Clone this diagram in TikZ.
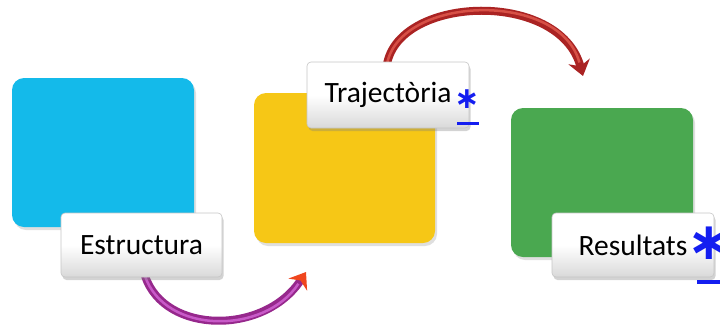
\documentclass[tikz,border=0pt]{standalone}
\usepackage{fontspec}
\setmainfont{Carlito}
\newfontfamily\astfont{DejaVu Sans}[BoldFont={DejaVu Sans Bold}]
\usetikzlibrary{arrows.meta,shadows}
\definecolor{cyanbox}{RGB}{20,186,234}
\definecolor{yellowbox}{RGB}{246,199,22}
\definecolor{greenbox}{RGB}{74,168,80}
\definecolor{astblue}{RGB}{20,30,240}
\definecolor{arrowred}{RGB}{170,35,35}
\definecolor{arrowredlight}{RGB}{215,80,70}
\definecolor{arrowpurple}{RGB}{150,40,140}
\definecolor{arrowpurplelight}{RGB}{200,90,200}
\definecolor{arroworange}{RGB}{240,70,30}
\tikzset{
  colbox/.style={rounded corners=12pt, minimum width=#1, inner sep=0pt,
     drop shadow={shadow xshift=2pt, shadow yshift=-3pt, opacity=0.25}},
  labelbox/.style={rounded corners=4pt, inner sep=0pt, draw=gray!45, line width=0.6pt,
     top color=white, bottom color=gray!30, middle color=white,
     drop shadow={shadow xshift=1.5pt, shadow yshift=-3pt, opacity=0.35},
     font=\fontsize{29.5}{31}\selectfont, text=black},
  ast/.style={text=astblue, inner sep=0pt},
  uline/.style={draw=astblue, line width=#1},
}
\begin{document}
\begin{tikzpicture}[x=1pt,y=-1pt]
\useasboundingbox (0,0) rectangle (720,330);
% coloured squares
\node[colbox=182pt, minimum height=149pt, fill=cyanbox] (cy) at (103,152.5) {};
\node[colbox=181pt, minimum height=150pt, fill=yellowbox] (ye) at (344.5,168) {};
\node[colbox=182pt, minimum height=149pt, fill=greenbox] (gr) at (602,182.5) {};
% arrows (drawn before label boxes)
\coordinate (a1s) at (145,276);
\coordinate (a1e) at (306,272);
\coordinate (a2s) at (387,64);
\coordinate (a2e) at (583,76);
\draw[line width=8pt, arrowpurple, line cap=round,
      -{Stealth[length=15pt,width=22pt,color=arroworange]}]
  (a1s) .. controls (165,335) and (265,335) .. (a1e);
\draw[line width=2.5pt, arrowpurplelight, shorten >=14pt]
  (a1s) .. controls (165,335) and (265,335) .. (a1e);
\draw[line width=8pt, arrowred, line cap=round,
      -{Stealth[length=15pt,width=22pt]}]
  (a2s) .. controls (400,-5) and (560,-10) .. (a2e);
\draw[line width=2.5pt, arrowredlight, shorten >=14pt]
  (a2s) .. controls (400,-5) and (560,-10) .. (a2e);
% label boxes
\node[labelbox, minimum width=161pt, minimum height=64pt] (es) at (141.5,245) {Estructura};
\node[labelbox, minimum width=162pt, minimum height=66pt] (tr) at (388,95) {Trajectòria};
\node[labelbox, minimum width=162pt, minimum height=64pt] (re) at (633,245) {Resultats};
% asterisks and underlines
\node[ast, font=\astfont\bfseries\fontsize{30}{30}\selectfont] (ast1) at (467,99) {∗};
\node[ast, font=\astfont\bfseries\fontsize{52}{52}\selectfont] (ast2) at (709,243) {∗};
\coordinate (u1a) at (457,123.5);
\coordinate (u1b) at (479,123.5);
\coordinate (u2a) at (697,282);
\coordinate (u2b) at (720,282);
\draw[uline=2.2pt] (u1a) -- (u1b);
\draw[uline=3.2pt] (u2a) -- (u2b);
\end{tikzpicture}
\end{document}
